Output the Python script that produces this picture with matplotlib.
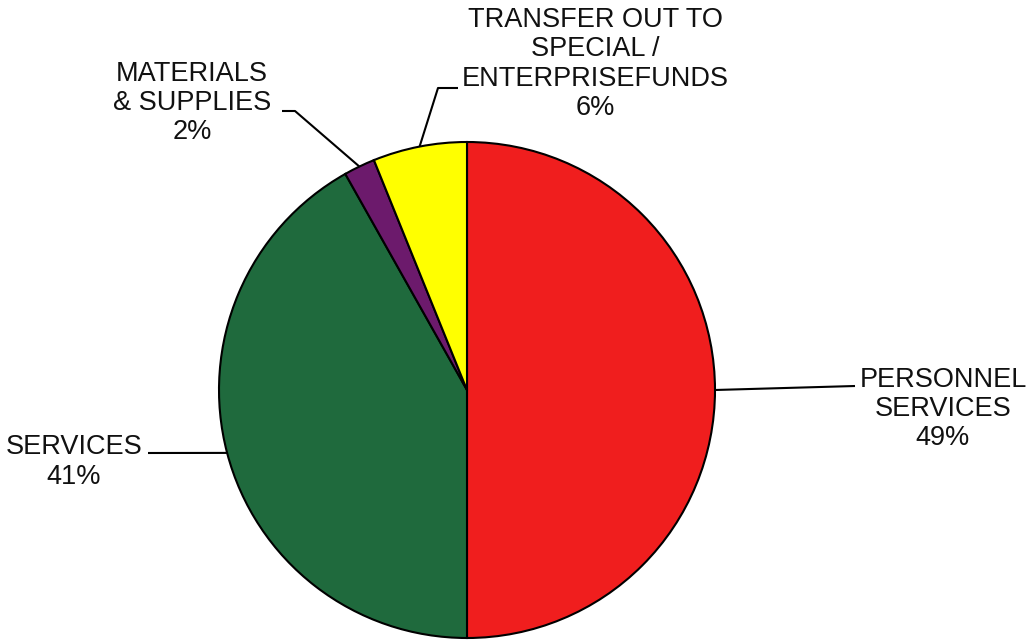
"""Expenditure breakdown pie chart with leader-line labels."""

import numpy as np
import matplotlib
matplotlib.use("Agg")
import matplotlib.pyplot as plt

labels = ["PERSONNEL\nSERVICES", "SERVICES", "MATERIALS\n& SUPPLIES",
          "TRANSFER OUT TO\nSPECIAL /\nENTERPRISEFUNDS"]
shares = [49, 41, 2, 6]
colors = ["#F01E1E", "#1F6A3D", "#6C1A6C", "#FFFF00"]

W, H = 1029, 642
plt.rcParams["font.family"] = ["Liberation Sans", "DejaVu Sans"]

fig = plt.figure(figsize=(W / 100, H / 100), dpi=100)
ax = fig.add_axes([0, 0, 1, 1])

cx, cy, r = 467, H - 390, 248
wedges, _ = ax.pie(shares, colors=colors, startangle=90, counterclock=False,
                   center=(cx, cy), radius=r,
                   wedgeprops=dict(edgecolor="black", linewidth=1.5))
ax.set_xlim(0, W)
ax.set_ylim(0, H)
ax.set_aspect("equal")
ax.axis("off")

# elbow points of the leader lines and label centres (pixel coords, y down)
elbows = [[(855, 386)], [(148, 453)], [(295, 111), (282, 111)],
          [(438, 88), (458, 88)]]
text_pos = [(943, 409), (74, 462), (192, 103), (595, 64)]

for w, lab, val, elb, (tx, ty) in zip(wedges, labels, shares, elbows, text_pos):
    mid = np.deg2rad((w.theta1 + w.theta2) / 2)
    xs = [cx + r * np.cos(mid)] + [p[0] for p in elb]
    ys = [cy + r * np.sin(mid)] + [H - p[1] for p in elb]
    ax.plot(xs, ys, color="black", lw=1.5, solid_capstyle="butt")
    ax.text(tx, H - ty, f"{lab}\n{val}%", ha="center", va="center",
            fontsize=19.5, linespacing=1.17, color="#111111")

fig.savefig("out.png", dpi=100, facecolor="white")
